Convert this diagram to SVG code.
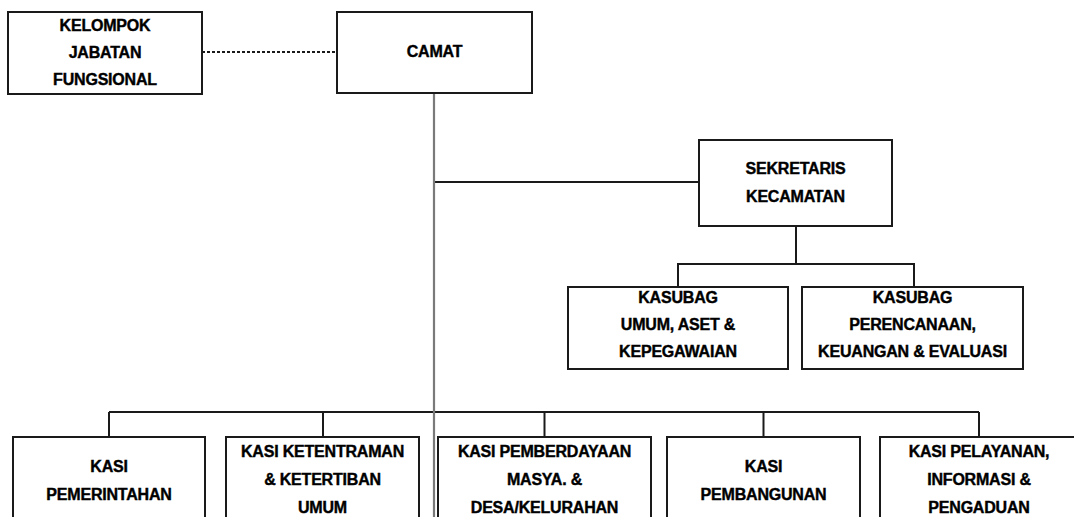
<svg xmlns="http://www.w3.org/2000/svg" width="1074" height="517" viewBox="0 0 1074 517">
<style>
.box{fill:#fff;stroke:#1a1a1a;stroke-width:2}
.t{font-family:"Liberation Sans",Arial,sans-serif;font-weight:bold;font-size:16px;fill:#000;stroke:#000;stroke-width:0.4;text-anchor:middle;letter-spacing:-0.2px}
.ln{fill:none;stroke:#1a1a1a;stroke-width:2}
.dash{fill:none;stroke:#1a1a1a;stroke-width:1.8;stroke-dasharray:3 2}
.main{fill:none;stroke:#7a7a7a;stroke-width:2.2}
</style>
<rect width="1074" height="517" fill="#fff"/>
<g id="connectors">
<line class="dash" x1="202" y1="52" x2="337" y2="52"/>
<line class="ln" x1="434" y1="182" x2="699" y2="182"/>
<polyline class="ln" points="796,226 796,264 678,264 678,287"/>
<polyline class="ln" points="796,264 914,264 914,287"/>
<line class="ln" x1="109" y1="412" x2="979" y2="412"/>
<line class="ln" x1="109" y1="412" x2="109" y2="437"/>
<line class="ln" x1="323" y1="412" x2="323" y2="437"/>
<line class="ln" x1="544.5" y1="412" x2="544.5" y2="437"/>
<line class="ln" x1="763.5" y1="412" x2="763.5" y2="437"/>
<line class="ln" x1="979" y1="412" x2="979" y2="437"/>
<line class="main" x1="434" y1="94" x2="434" y2="517"/>
</g>
<g id="kelompok">
<rect class="box" x="8" y="12" width="194" height="82"/>
<text class="t" x="105" y="31">KELOMPOK</text>
<text class="t" x="105" y="58">JABATAN</text>
<text class="t" x="105" y="85">FUNGSIONAL</text>
</g>
<g id="camat">
<rect class="box" x="337" y="12" width="195" height="81"/>
<text class="t" x="434.5" y="57">CAMAT</text>
</g>
<g id="sekretaris">
<rect class="box" x="699" y="140" width="193" height="86"/>
<text class="t" x="795.5" y="174">SEKRETARIS</text>
<text class="t" x="795.5" y="202">KECAMATAN</text>
</g>
<g id="kasubag-umum">
<rect class="box" x="568" y="287" width="220" height="82"/>
<text class="t" x="678" y="303">KASUBAG</text>
<text class="t" x="678" y="330">UMUM, ASET &amp;</text>
<text class="t" x="678" y="357">KEPEGAWAIAN</text>
</g>
<g id="kasubag-perencanaan">
<rect class="box" x="802" y="287" width="221" height="82"/>
<text class="t" x="912.5" y="303">KASUBAG</text>
<text class="t" x="912.5" y="330">PERENCANAAN,</text>
<text class="t" x="912.5" y="357">KEUANGAN &amp; EVALUASI</text>
</g>
<g id="kasi-pemerintahan">
<rect class="box" x="13" y="437" width="192" height="100"/>
<text class="t" x="109" y="472">KASI</text>
<text class="t" x="109" y="500">PEMERINTAHAN</text>
</g>
<g id="kasi-ketentraman">
<rect class="box" x="226" y="437" width="193" height="100"/>
<text class="t" x="322.5" y="457">KASI KETENTRAMAN</text>
<text class="t" x="322.5" y="485">&amp; KETERTIBAN</text>
<text class="t" x="322.5" y="513">UMUM</text>
</g>
<g id="kasi-pemberdayaan">
<rect class="box" x="438" y="437" width="213" height="100"/>
<text class="t" x="544.5" y="457">KASI PEMBERDAYAAN</text>
<text class="t" x="544.5" y="485">MASYA. &amp;</text>
<text class="t" x="544.5" y="513">DESA/KELURAHAN</text>
</g>
<g id="kasi-pembangunan">
<rect class="box" x="667" y="437" width="193" height="100"/>
<text class="t" x="763.5" y="472">KASI</text>
<text class="t" x="763.5" y="500">PEMBANGUNAN</text>
</g>
<g id="kasi-pelayanan">
<rect class="box" x="880" y="437" width="198" height="100"/>
<text class="t" x="979" y="457">KASI PELAYANAN,</text>
<text class="t" x="979" y="485">INFORMASI &amp;</text>
<text class="t" x="979" y="513">PENGADUAN</text>
</g>
</svg>
